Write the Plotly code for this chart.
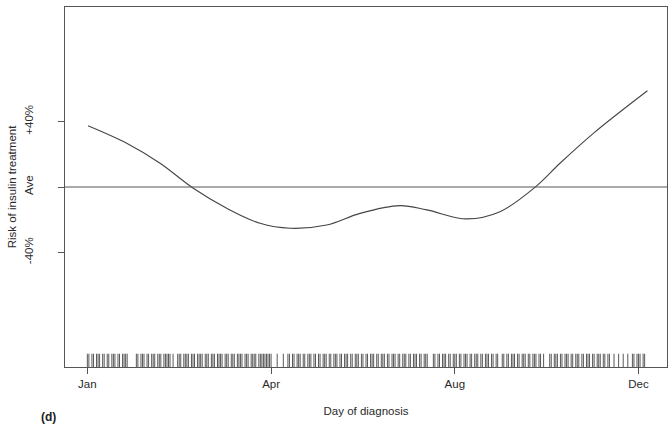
import plotly.graph_objects as go

# Smoothed risk curve (day of year, % deviation from average)
curve_day = [1.4, 26.7, 48.5, 70.2, 92, 113.8, 133.4, 157.3, 179.1, 205.2, 222.7, 248.8, 270.5, 293.9, 309.7, 331.5, 366.8]
curve_risk = [37.4, 26.7, 14.5, -0.8, -13.0, -22.2, -25.2, -23.2, -16.1, -11.4, -14.0, -19.5, -15.1, 0.2, 14.5, 32.8, 58.8]

# Days of diagnosis (rug)
rug_days = [1, 2, 4, 5, 7, 8, 9, 11, 12, 14, 15, 17, 18, 19, 21, 22, 24, 25, 26, 27,
            33, 34, 36, 37, 38, 40, 41, 43, 44, 45, 47, 48, 49, 51, 52, 53, 54, 55, 57,
            60, 61, 62, 64, 65, 66, 67, 69, 70, 71, 73, 74, 75, 76, 78, 79, 80, 82, 83, 84,
            86, 87, 88, 89, 91, 92, 93, 95, 96, 97, 99, 100, 101, 102, 104, 105, 106, 108,
            109, 110, 111, 113, 114, 115, 116, 117, 118, 119, 120, 121, 125, 129,
            132, 133, 135, 136, 138, 139, 140, 142, 143, 145, 146, 147, 149, 150, 152, 153,
            155, 156, 157, 159, 160, 162, 163, 164, 166, 167, 169, 170, 171, 173, 174, 176,
            177, 178, 180, 181, 183, 184, 186, 187, 188, 190, 191, 193, 194, 195, 197, 198,
            200, 201, 202, 204, 205, 207, 208, 209, 211, 212, 214, 215, 216, 218, 219, 221,
            222, 223, 227, 228, 230, 231, 233, 234, 235, 237, 238, 240, 241, 242, 244, 245,
            247, 248, 249, 251, 252, 254, 255, 256, 258, 259, 261, 262, 263, 265, 266, 268,
            269, 272, 273, 275, 276, 278, 279, 280, 282, 283, 285, 286, 287, 289, 290, 292,
            293, 294, 296, 297, 299, 303, 304, 306, 307, 308, 310, 311, 313, 314, 315, 317,
            318, 320, 321, 322, 324, 325, 327, 328, 329, 331, 332, 334, 335, 336, 338, 339,
            341, 342, 345, 348, 351, 354, 357, 358, 360, 361, 362, 364, 365]
rug_level = -106.6

x_tick_vals = [1, 121, 241, 361]
x_tick_text = ["Jan", "Apr", "Aug", "Dec"]
y_tick_vals = [-40, 0, 40]
y_tick_text = ["-40%", "Ave", "+40%"]

ink = "#555555"
font = dict(family="Liberation Sans, Arial, sans-serif", size=11.5, color="#2a2a2a")

fig = go.Figure()
fig.add_trace(go.Scatter(
    x=rug_days, y=[rug_level] * len(rug_days), mode="markers",
    marker=dict(symbol="line-ns", size=11, opacity=0.75,
                line=dict(width=1, color="#222222")),
    hoverinfo="skip", showlegend=False))
fig.add_trace(go.Scatter(
    x=curve_day, y=curve_risk, mode="lines",
    line=dict(shape="spline", smoothing=1.0, color="#444444", width=1.1),
    showlegend=False))

fig.add_hline(y=0, line=dict(color="#555555", width=1))

fig.add_annotation(text="<b>(d)</b>", xref="paper", yref="paper", x=-0.028, y=-0.163,
                   xanchor="center", yanchor="bottom", showarrow=False,
                   font=dict(family="Liberation Sans, Arial, sans-serif", size=12, color="#222"))

fig.update_layout(
    width=671, height=427,
    margin=dict(l=65, r=4, t=7, b=60),
    paper_bgcolor="white", plot_bgcolor="white",
    font=font,
    xaxis=dict(range=[-13.6, 379.6], tickvals=x_tick_vals, ticktext=x_tick_text,
               ticks="outside", ticklen=6, tickcolor=ink, showgrid=False, zeroline=False,
               showline=True, mirror=True, linecolor=ink, linewidth=1,
               title=dict(text="Day of diagnosis", standoff=18, font=dict(size=11.5))),
    yaxis=dict(range=[-110, 110], tickvals=y_tick_vals, ticktext=y_tick_text,
               ticks="outside", ticklen=6, tickcolor=ink, tickangle=-90,
               ticklabelstandoff=20,
               showgrid=False, zeroline=False,
               showline=True, mirror=True, linecolor=ink, linewidth=1,
               title=dict(text="Risk of insulin treatment", standoff=4, font=dict(size=11.5))),
)

fig.write_html("out.html")
